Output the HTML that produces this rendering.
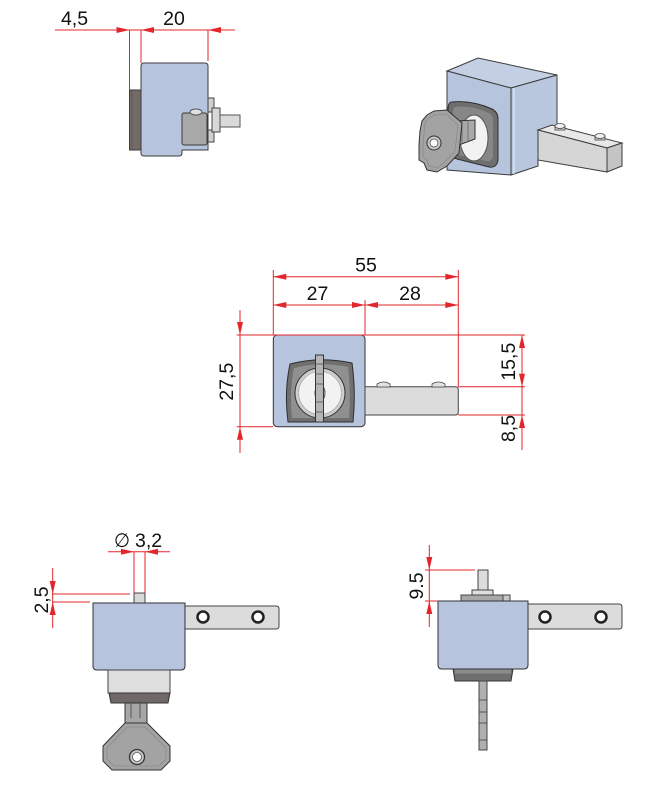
<!DOCTYPE html>
<html><head><meta charset="utf-8"><style>
html,body{margin:0;padding:0;background:#fff;}
svg{display:block;}
text{font-family:"Liberation Sans",Arial,sans-serif;font-size:19.5px;fill:#111;}
</style></head><body>
<svg width="669" height="790" viewBox="0 0 669 790" xmlns="http://www.w3.org/2000/svg">
<rect width="669" height="790" fill="#fff"/>

<!-- ========== TOP LEFT (side view) ========== -->
<rect x="129.5" y="90" width="11.5" height="60" fill="#736b68" stroke="#3a3a3a"/>
<line x1="132" y1="91" x2="132" y2="149" stroke="#5e5754" stroke-width="1"/>
<path d="M144 63 H205 Q208 63 208 66 V150 H182 V153 Q182 156 179 156 H144 Q141 156 141 153 V66 Q141 63 144 63 Z" fill="#b6c5dd" stroke="#3c3c3c"/>
<rect x="182" y="113" width="25" height="32" rx="2" fill="#a8a8a8" stroke="#3a3a3a"/>
<ellipse cx="196" cy="112" rx="6" ry="3" fill="#e2e2e2" stroke="#555"/>
<rect x="208" y="98" width="6" height="14" fill="#cfcfcf" stroke="#444"/>
<rect x="208" y="130" width="6" height="12" fill="#cfcfcf" stroke="#444"/>
<rect x="212" y="108" width="8" height="24" fill="#d8d8d8" stroke="#444"/>
<rect x="220" y="115" width="20" height="12" fill="#dadada" stroke="#555"/>

<!-- ========== TOP RIGHT (isometric) ========== -->
<polygon points="447,71 478,58 557,75 511,88" fill="#c3cfe3" stroke="#3c3c3c"/>
<polygon points="447,71 511,88 511,175 447,170" fill="#b6c5dd" stroke="#3c3c3c"/>
<polygon points="511,88 557,75 557,147 538,155 538,166 511,175" fill="#b9c7de" stroke="#3c3c3c"/>
<line x1="514" y1="88" x2="514" y2="174" stroke="#e2e8f2" stroke-width="1.2"/>
<!-- arm -->
<polygon points="538,130 552,125 622,143 607,148" fill="#e8e8e8" stroke="#3c3c3c"/>
<polygon points="538,130 607,148 607,172 538,160" fill="#d6d6d6" stroke="#3c3c3c"/>
<polygon points="607,148 622,143 622,166 607,172" fill="#c4c4c4" stroke="#3c3c3c"/>
<rect x="555" y="126" width="10" height="4" fill="#dcdcdc" stroke="#444" stroke-width="0.8"/>
<ellipse cx="560" cy="126" rx="5" ry="2.5" fill="#f0f0f0" stroke="#444" stroke-width="0.8"/>
<rect x="595" y="136" width="10" height="4" fill="#dcdcdc" stroke="#444" stroke-width="0.8"/>
<ellipse cx="600" cy="136" rx="5" ry="2.5" fill="#f0f0f0" stroke="#444" stroke-width="0.8"/>
<!-- lock frame -->
<path d="M452,102 Q472,100 492,109 Q498,112 498,119 L498,160 Q497,168 489,167 L457,159 Q449,157 449,149 L448,110 Q448,102 452,102 Z" fill="#6e6e6e" stroke="#2e2e2e"/>
<path d="M455,107 Q472,105 489,113 Q493,115 493,121 L493,156 Q492,162 486,161 L459,155 Q453,153 453,147 L453,113 Q453,107 455,107 Z" fill="#878787"/>
<ellipse cx="474" cy="138" rx="14" ry="23" fill="#f2f2f2" stroke="#555"/>
<!-- key -->
<polygon points="455,121 475,120 475,139 459,145" fill="#a9a9a9" stroke="#333"/>
<line x1="462" y1="121" x2="462" y2="143" stroke="#666" stroke-width="0.8"/>
<line x1="468" y1="120" x2="468" y2="141" stroke="#666" stroke-width="0.8"/>
<polygon points="422,121 427,115 434,111 447,110 462,123 459,153 447,166 437,172 427,170 424,163 419,160 419,145 420,131" fill="#a3a3a3" stroke="#333"/>
<polygon points="425,123 429,118 435,115 446,114 458,125 455,151 445,162 437,168 429,166 427,160 423,157 423,146 424,133" fill="none" stroke="#8a8a8a" stroke-width="0.8"/>
<circle cx="434" cy="143" r="7" fill="#c9c9c9" stroke="#333"/>
<circle cx="434" cy="143" r="4" fill="#fafafa" stroke="#555" stroke-width="0.8"/>

<!-- ========== MIDDLE (front view) ========== -->
<rect x="273.3" y="335" width="91.7" height="91.7" rx="4" fill="#b6c5dd" stroke="#333"/>
<path d="M365 386.7 H455.3 Q458.3 386.7 458.3 389.7 V412 Q458.3 415 455.3 415 H365 Z" fill="#dcdcdc" stroke="#444"/>
<path d="M377 387 V384 Q383.5 380 390 384 V387 Z" fill="#e2e2e2" stroke="#444" stroke-width="0.8"/>
<path d="M432 387 V384 Q438.5 380 445 384 V387 Z" fill="#e2e2e2" stroke="#444" stroke-width="0.8"/>
<!-- lock -->
<path d="M290,364 Q320,356 352,363 Q356,392 353,422 L288,422 Q284,392 290,364 Z" fill="#6f6f6f" stroke="#2e2e2e"/>
<path d="M294,368 Q320,361 348,367 Q351,392 349,418 L292,418 Q289,392 294,368 Z" fill="#909090"/>
<circle cx="320" cy="393" r="25" fill="#cfcfcf" stroke="#333"/>
<circle cx="320" cy="393" r="21.5" fill="#f2f2f2" stroke="#aaa" stroke-width="0.8"/>
<ellipse cx="320" cy="393" rx="5" ry="8" fill="none" stroke="#555"/>
<ellipse cx="320" cy="393" rx="3" ry="5" fill="none" stroke="#777"/>
<rect x="315.5" y="355" width="8" height="67" fill="#b5b5b5" stroke="#333"/>
<g stroke="#555" stroke-width="0.8">
<line x1="315.5" y1="364" x2="323.5" y2="364"/><line x1="315.5" y1="374" x2="323.5" y2="374"/>
<line x1="315.5" y1="384" x2="323.5" y2="384"/><line x1="315.5" y1="402" x2="323.5" y2="402"/>
<line x1="315.5" y1="412" x2="323.5" y2="412"/>
</g>

<!-- ========== BOTTOM LEFT ========== -->
<rect x="134" y="593" width="11" height="10" fill="#d8d8d8" stroke="#444"/>
<path d="M185 606 H276 Q279 606 279 609 V626 Q279 629 276 629 H185 Z" fill="#dcdcdc" stroke="#444"/>
<circle cx="203" cy="617" r="5.5" fill="#fff" stroke="#222" stroke-width="2.5"/>
<circle cx="258" cy="617" r="5.5" fill="#fff" stroke="#222" stroke-width="2.5"/>
<path d="M93 603 H185 V666 Q185 670 181 670 H97 Q93 670 93 666 Z" fill="#b6c5dd" stroke="#333"/>
<rect x="108" y="670" width="62" height="23" fill="#dedede" stroke="#444"/>
<path d="M109 693 H170 L168 703 H111 Z" fill="#706867" stroke="#333"/>
<rect x="125" y="703" width="22" height="21" fill="#a6a6a6" stroke="#333"/>
<line x1="131" y1="703" x2="131" y2="718" stroke="#555"/>
<line x1="140" y1="703" x2="140" y2="718" stroke="#555"/>
<polygon points="125,723 147,723 170,746 170,761 161,770 112,770 103,761 103,746" fill="#a3a3a3" stroke="#333"/>
<polygon points="127,727 145,727 166,748 166,759 159,766 114,766 107,759 107,748" fill="none" stroke="#8a8a8a" stroke-width="0.8"/>
<circle cx="137" cy="757" r="7.5" fill="#c6c6c6" stroke="#333" stroke-width="1.3"/>
<circle cx="137" cy="757" r="4.5" fill="#fff" stroke="#555" stroke-width="0.8"/>

<!-- ========== BOTTOM RIGHT ========== -->
<rect x="478" y="570" width="10" height="20" fill="#dcdcdc" stroke="#444"/>
<rect x="472" y="590" width="21" height="5" fill="#dedede" stroke="#444"/>
<rect x="461" y="595" width="49" height="6" fill="#a8a8a8" stroke="#444"/>
<rect x="503" y="595" width="7" height="6" fill="#c8c8c8" stroke="#444"/>
<path d="M528 604 H619 Q622 604 622 607 V626 Q622 629 619 629 H528 Z" fill="#dcdcdc" stroke="#444"/>
<circle cx="545" cy="617" r="5.5" fill="#fff" stroke="#222" stroke-width="2.5"/>
<circle cx="601" cy="617" r="5.5" fill="#fff" stroke="#222" stroke-width="2.5"/>
<path d="M438 601 H528 V665 Q528 669 524 669 H442 Q438 669 438 665 Z" fill="#b6c5dd" stroke="#333"/>
<path d="M453 669 H513 L511 681 H455 Z" fill="#6f6f6f" stroke="#333"/>
<rect x="455" y="669.5" width="56" height="4" fill="#8c8c8c"/>
<rect x="479" y="681" width="8" height="69" fill="#b0b0b0" stroke="#444"/>
<g stroke="#444" stroke-width="0.8">
<line x1="479" y1="700" x2="487" y2="700"/><line x1="479" y1="712" x2="487" y2="712"/>
<line x1="479" y1="723" x2="487" y2="723"/><line x1="479" y1="740" x2="487" y2="740"/>
</g>

<!-- ========== DIMENSION LINES ========== -->
<g stroke="#e3262b" stroke-width="1" fill="none">
<path d="M55 30 H235 M129.5 30 V90 M141 30 V63 M208 30 V61"/>
<path d="M273.3 276.7 H458.3 M273.3 305 H458.3 M273.3 270 V335 M365 300 V335 M458.3 270 V386.7 M236.7 335 H525 M458.3 386.7 H525 M458.3 415 H525 M236.7 426.7 H273.3 M240 310 V453 M522 335 V450"/>
<path d="M108 551.7 H170 M134 551.7 V593 M145 551.7 V593 M52 594 H130 M52 602 H90 M52.7 568 V628"/>
<path d="M425 570 H475 M425 601 H438 M429.3 545 V627"/>
</g>
<g fill="#e3262b">
<polygon points="129.5,30 116.5,27 116.5,33"/>
<polygon points="141,30 154,27 154,33"/>
<polygon points="208,30 221,27 221,33"/>

<polygon points="273.3,276.7 286.3,273.7 286.3,279.7"/>
<polygon points="458.3,276.7 445.3,273.7 445.3,279.7"/>
<polygon points="273.3,305 286.3,302 286.3,308"/>
<polygon points="365,305 352,302 352,308"/>
<polygon points="365,305 378,302 378,308"/>
<polygon points="458.3,305 445.3,302 445.3,308"/>
<polygon points="240,335 237,322 243,322"/>
<polygon points="240,426.7 237,439.7 243,439.7"/>
<polygon points="522,335 519,348 525,348"/>
<polygon points="522,386.7 519,373.7 525,373.7"/>
<polygon points="522,415 519,428 525,428"/>

<polygon points="134,551.7 121,548.7 121,554.7"/>
<polygon points="145,551.7 158,548.7 158,554.7"/>
<polygon points="52.7,594 49.7,581 55.7,581"/>
<polygon points="52.7,602 49.7,615 55.7,615"/>

<polygon points="429.3,570 426.3,557 432.3,557"/>
<polygon points="429.3,601 426.3,614 432.3,614"/>
</g>

<!-- ========== TEXT ========== -->
<text x="74.5" y="25" text-anchor="middle">4,5</text>
<text x="174" y="25" text-anchor="middle">20</text>
<text x="366" y="271.5" text-anchor="middle">55</text>
<text x="317.5" y="300" text-anchor="middle">27</text>
<text x="410" y="300" text-anchor="middle">28</text>
<text transform="translate(233,381.7) rotate(-90)" text-anchor="middle">27,5</text>
<text transform="translate(515,361.7) rotate(-90)" text-anchor="middle">15,5</text>
<text transform="translate(515,428.5) rotate(-90)" text-anchor="middle">8,5</text>
<text x="114" y="547" style="font-family:'DejaVu Sans',sans-serif;" textLength="16" lengthAdjust="spacingAndGlyphs">∅</text>
<text x="135" y="547">3,2</text>
<text transform="translate(48,600) rotate(-90)" text-anchor="middle">2,5</text>
<text transform="translate(423,586) rotate(-90)" text-anchor="middle">9.5</text>
</svg>
</body></html>
